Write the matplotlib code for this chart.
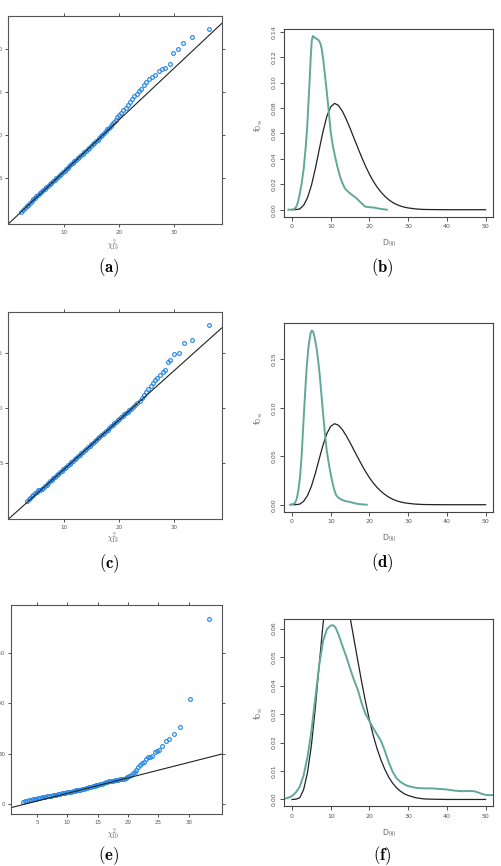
import matplotlib.pyplot as plt

plt.rcParams['mathtext.fontset'] = 'cm'

# ---- QQ plot data (chi-square quantile vs. distance) ----
qa_x = [2.1, 2.5, 2.9, 3.2, 3.5, 3.8, 4.1, 4.4, 4.7, 5.0, 5.3, 5.6, 5.9, 6.2, 6.5, 6.8,
        7.1, 7.4, 7.7, 8.0, 8.3, 8.6, 8.9, 9.2, 9.5, 9.8, 10.1, 10.4, 10.7, 11.0, 11.3,
        11.6, 11.9, 12.2, 12.5, 12.8, 13.1, 13.4, 13.7, 14.0, 14.3, 14.6, 14.9, 15.2,
        15.5, 15.8, 16.1, 16.4, 16.7, 17.0, 17.3, 17.6, 17.9, 18.2, 18.5, 18.8, 19.1,
        19.4, 19.7, 20.0, 20.4, 20.8, 21.2, 21.6, 22.0, 22.4, 22.8, 23.2, 23.6, 24.0,
        24.5, 25.0, 25.5, 26.0, 26.6, 27.2, 27.8, 28.4, 29.3, 29.9, 30.8, 31.7, 33.2, 36.4]
qa_y = [1.0, 1.25, 1.5, 1.7, 1.9, 2.1, 2.3, 2.5, 2.7, 2.88, 3.05, 3.22, 3.4, 3.57, 3.74,
        3.9, 4.08, 4.25, 4.42, 4.6, 4.77, 4.95, 5.12, 5.3, 5.48, 5.66, 5.85, 6.03, 6.22,
        6.4, 6.58, 6.76, 6.93, 7.1, 7.28, 7.46, 7.64, 7.82, 8.0, 8.18, 8.36, 8.54, 8.73,
        8.92, 9.1, 9.28, 9.47, 9.66, 9.85, 10.04, 10.24, 10.44, 10.65, 10.87, 11.1, 11.33,
        11.56, 11.8, 12.05, 12.3, 12.6, 12.85, 13.1, 13.45, 13.85, 14.2, 14.5, 14.8, 15.1,
        15.4, 15.8, 16.2, 16.5, 16.75, 17.0, 17.4, 17.7, 17.85, 18.2, 19.5, 20.0, 20.7,
        21.4, 22.3]
qa_line = (-0.27, 0.601)

qc_x = [3.2, 3.5, 3.8, 4.1, 4.4, 4.7, 5.0, 5.3, 5.6, 5.9, 6.2, 6.5, 6.8, 7.1, 7.4, 7.7,
        8.0, 8.3, 8.6, 8.9, 9.2, 9.5, 9.8, 10.1, 10.4, 10.7, 11.0, 11.3, 11.6, 11.9, 12.2,
        12.5, 12.8, 13.1, 13.4, 13.7, 14.0, 14.3, 14.6, 14.9, 15.2, 15.5, 15.8, 16.1, 16.4,
        16.7, 17.0, 17.3, 17.6, 17.9, 18.2, 18.5, 18.8, 19.1, 19.4, 19.7, 20.0, 20.3, 20.6,
        20.9, 21.2, 21.5, 21.8, 22.1, 22.5, 22.9, 23.3, 23.7, 24.1, 24.5, 24.9, 25.3, 25.7,
        26.1, 26.5, 26.9, 27.4, 27.9, 28.4, 28.8, 29.2, 29.9, 30.8, 31.7, 33.2, 36.4]
qc_y = [1.58, 1.72, 1.87, 2.02, 2.16, 2.3, 2.42, 2.53, 2.6, 2.68, 2.8, 2.93, 3.07, 3.22,
        3.36, 3.5, 3.63, 3.77, 3.9, 4.04, 4.17, 4.31, 4.44, 4.57, 4.71, 4.84, 4.98, 5.11,
        5.24, 5.37, 5.51, 5.64, 5.79, 5.92, 6.05, 6.19, 6.32, 6.46, 6.59, 6.73, 6.86, 6.99,
        7.13, 7.26, 7.4, 7.53, 7.67, 7.8, 7.93, 8.07, 8.21, 8.35, 8.49, 8.63, 8.76, 8.9,
        9.04, 9.17, 9.31, 9.44, 9.58, 9.71, 9.85, 9.98, 10.16, 10.33, 10.5, 10.68, 10.9,
        11.2, 11.5, 11.8, 12.05, 12.3, 12.6, 12.8, 13.0, 13.3, 13.5, 14.2, 14.35, 14.9,
        15.0, 15.9, 16.2, 17.6]
qc_line = (0.0, 0.448)

qe_x = [2.75, 3.1, 3.4, 3.7, 4.0, 4.3, 4.6, 4.9, 5.2, 5.5, 5.8, 6.1, 6.4, 6.7, 7.0, 7.3,
        7.6, 7.9, 8.2, 8.5, 8.8, 9.1, 9.4, 9.7, 10.0, 10.3, 10.6, 10.9, 11.2, 11.5, 11.8,
        12.1, 12.4, 12.7, 13.0, 13.3, 13.6, 13.9, 14.2, 14.5, 14.8, 15.1, 15.4, 15.7, 16.0,
        16.3, 16.6, 16.9, 17.2, 17.5, 17.8, 18.1, 18.4, 18.7, 19.0, 19.3, 19.6, 19.9, 20.2,
        20.5, 20.8, 21.1, 21.4, 21.7, 22.0, 22.3, 22.6, 23.0, 23.3, 23.6, 23.9, 24.4, 24.8,
        25.1, 25.6, 26.2, 26.8, 27.5, 28.6, 30.2, 33.3]
qe_y = [2.3, 2.8, 3.3, 3.8, 4.2, 4.6, 5.0, 5.4, 5.8, 6.2, 6.5, 6.8, 7.1, 7.5, 7.8, 8.2,
        8.6, 9.0, 9.4, 9.7, 10.1, 10.5, 10.8, 11.2, 11.5, 11.9, 12.3, 12.7, 13.1, 13.5,
        13.9, 14.3, 14.7, 15.1, 15.5, 15.9, 16.4, 16.9, 17.4, 17.9, 18.4, 19.0, 19.6, 20.2,
        20.8, 21.4, 22.0, 22.6, 23.0, 23.3, 23.7, 24.0, 24.3, 24.6, 24.9, 25.2, 25.5, 26.4,
        27.8, 29.2, 30.6, 32.0, 34.0, 36.2, 38.2, 40.2, 42.0, 44.6, 46.2, 46.8, 47.6, 52.0,
        52.8, 53.6, 57.9, 62.2, 64.5, 69.8, 76.4, 103.8, 183.5]
qe_line = (-4.72, 1.53)

# ---- density data ----
fit_x = [0, 1, 2, 3, 4, 5, 6, 7, 8, 9, 10, 11, 12, 13, 14, 15, 16, 17, 18, 19, 20, 21,
         22, 23, 24, 25, 26, 27, 28, 29, 30, 32, 34, 36, 40, 45, 50]
fit_y = [0, 0.0001, 0.0006, 0.0035, 0.0095, 0.019, 0.032, 0.047, 0.0615, 0.0735, 0.081,
         0.0836, 0.082, 0.0775, 0.0712, 0.064, 0.0563, 0.0487, 0.0412, 0.0342, 0.0279,
         0.0224, 0.0177, 0.0138, 0.0105, 0.0078, 0.0057, 0.0041, 0.0029, 0.002, 0.0014,
         0.0006, 0.0002, 0.0001, 0, 0, 0]

kb_x = [-0.95, 0, 0.5, 1.0, 1.5, 2.0, 2.5, 3.0, 3.5, 3.9, 4.2, 4.5, 4.8, 5.1, 5.4, 5.8, 6.3,
        6.8, 7.3, 7.7, 8.1, 8.5, 9.0, 9.5, 10.0, 10.5, 11.1, 11.7, 12.4, 13.0, 13.7, 14.3,
        15.0, 16.0, 16.7, 17.8, 18.9, 20.2, 21.2, 21.9, 23.0, 24.5]
kb_y = [0, 0.0001, 0.0005, 0.0018, 0.0055, 0.0125, 0.021, 0.032, 0.048, 0.064, 0.082,
        0.099, 0.118, 0.133, 0.1366, 0.1355, 0.1345, 0.1335, 0.131, 0.126, 0.117, 0.106,
        0.092, 0.077, 0.061, 0.051, 0.042, 0.034, 0.026, 0.021, 0.0165, 0.0148, 0.0128,
        0.0105, 0.0089, 0.0055, 0.0024, 0.0019, 0.0017, 0.0012, 0.0006, 0.0]

kd_x = [-0.52, 0.3, 0.8, 1.2, 1.6, 2.07, 2.5, 2.93, 3.4, 3.79, 4.2, 4.5, 4.8, 5.1, 5.4, 5.7,
        6.0, 6.4, 6.8, 7.2, 7.6, 8.1, 8.5, 8.96, 9.6, 10.3, 10.9, 11.4, 12.0, 12.4, 13.0,
        13.7, 15.0, 16.0, 16.7, 18.0, 19.3]
kd_y = [0, 0.0007, 0.002, 0.006, 0.014, 0.0286, 0.052, 0.084, 0.117, 0.142, 0.161, 0.170,
        0.177, 0.1797, 0.179, 0.175, 0.169, 0.160, 0.147, 0.132, 0.113, 0.0907, 0.073,
        0.056, 0.040, 0.0252, 0.0155, 0.0097, 0.0072, 0.0062, 0.0049, 0.0038, 0.0028,
        0.0018, 0.001, 0.0004, 0.0]

kf_x = [-2.0, -1.0, 0, 1.0, 2.0, 3.0, 4.0, 5.0, 6.0, 7.0, 8.0, 9.0, 10.0, 10.6, 11.2, 12.0,
        13.0, 14.0, 15.0, 16.0, 17.0, 18.0, 19.0, 20.0, 21.0, 22.0, 23.0, 24.0, 25.0, 26.0,
        27.0, 28.0, 29.0, 30.0, 32.0, 34.0, 36.0, 38.0, 40.0, 42.0, 44.0, 46.0, 47.0, 48.0,
        49.0, 50.0, 52.0]
kf_y = [0.0002, 0.0006, 0.0012, 0.0025, 0.0045, 0.0085, 0.015, 0.024, 0.0355, 0.047,
        0.0555, 0.0598, 0.0611, 0.0612, 0.0605, 0.058, 0.054, 0.0502, 0.046, 0.042, 0.0385,
        0.0338, 0.030, 0.0275, 0.025, 0.0228, 0.0205, 0.017, 0.013, 0.0097, 0.0075, 0.0062,
        0.0053, 0.0047, 0.0041, 0.0039, 0.0039, 0.0037, 0.0035, 0.0031, 0.0029, 0.003,
        0.0029, 0.0025, 0.002, 0.0016, 0.0015]

BLUE = '#1f84e6'
GREEN = '#62a89a'
W, H = 502, 866

fig = plt.figure(figsize=(W / 100, H / 100), dpi=100)


def rect(l, t, r, b):
    return [l / W, 1 - b / H, (r - l) / W, (b - t) / H]


def qq_panel(box, x, y, line, xlim, ylim, xticks, yticks, df, lab_xy):
    ax = fig.add_axes(rect(*box))
    ax.plot(x, y, 'o', mfc='none', mec=BLUE, ms=2.7, mew=0.9, alpha=0.9)
    ax.axline((0, line[0]), slope=line[1], color='#222222', lw=0.8)
    ax.set_xlim(xlim)
    ax.set_ylim(ylim)
    ax.set_xticks(xticks)
    ax.set_yticks(yticks)
    ax.tick_params(direction='out', length=2.5, width=0.6, colors='#333333',
                   labelsize=4, labelcolor='#555555', pad=1.5, top=True, right=True)
    for s in ax.spines.values():
        s.set_color('#555555')
        s.set_linewidth(0.8)
    fig.text(lab_xy[0] / W, 1 - lab_xy[1] / H, r'$\chi^2_{%s}$' % df,
             fontsize=5.5, color='#555555', ha='center', va='center')
    return ax


def dens_panel(box, kx, ky, ylim, yticks, ylabels, xlab_y, ylab_y):
    ax = fig.add_axes(rect(*box))
    ax.plot(fit_x, fit_y, color='#222222', lw=0.9)
    ax.plot(kx, ky, color=GREEN, lw=1.4)
    ax.set_xlim(-2, 52)
    ax.set_ylim(ylim)
    ax.set_xticks([0, 10, 20, 30, 40, 50])
    ax.set_yticks(yticks)
    ax.set_yticklabels(ylabels, rotation=90, va='center')
    ax.tick_params(direction='out', length=3, width=0.6, colors='#333333',
                   labelsize=4.5, labelcolor='#555555', pad=2.5)
    for s in ax.spines.values():
        s.set_color('#444444')
        s.set_linewidth(0.8)
    fig.text(389 / W, 1 - xlab_y / H, r'$\mathsf{D}_{\mathsf{90}}$', fontsize=6,
             color='#555555', ha='center', va='center')
    fig.text(259 / W, 1 - ylab_y / H, r'$\mathsf{f}_{\mathsf{D}_{\mathsf{90}}}$',
             fontsize=6, color='#555555', ha='center', va='center', rotation=90)
    return ax


qq_panel((8, 16, 222, 224), qa_x, qa_y, qa_line, (-0.18, 38.73), (-0.35, 23.84),
         [10, 20, 30], [5, 10, 15, 20], '13', (113, 245))
qq_panel((8.3, 312.3, 222.3, 519.3), qc_x, qc_y, qc_line, (-0.18, 38.73), (-0.09, 18.73),
         [10, 20, 30], [5, 10, 15], '13', (113, 538))
qq_panel((10.7, 605.3, 222.3, 814.3), qe_x, qe_y, qe_line, (0.67, 35.54), (-10.2, 197),
         [5, 10, 15, 20, 25, 30], [0, 50, 100, 150], '10', (113, 834))

dens_panel((284.3, 29, 493.3, 216.7), kb_x, kb_y, (-0.0055, 0.1421),
           [0, 0.02, 0.04, 0.06, 0.08, 0.10, 0.12, 0.14],
           ['0.00', '0.02', '0.04', '0.06', '0.08', '0.10', '0.12', '0.14'], 243, 125)
dens_panel((284.3, 323.3, 493.3, 511.7), kd_x, kd_y, (-0.0072, 0.1872),
           [0, 0.05, 0.10, 0.15], ['0.00', '0.05', '0.10', '0.15'], 538, 418)
dens_panel((284.3, 619, 493.3, 806.3), kf_x, kf_y, (-0.0024, 0.0634),
           [0, 0.01, 0.02, 0.03, 0.04, 0.05, 0.06],
           ['0.00', '0.01', '0.02', '0.03', '0.04', '0.05', '0.06'], 833, 713)

captions = ['(a)', '(b)', '(c)', '(d)', '(e)', '(f)']
cap_pos = [(109, 268), (382, 268), (109, 564), (382, 563), (109, 856), (382, 856)]
for c, (px, py) in zip(captions, cap_pos):
    fig.text(px / W, 1 - py / H, r'$\mathbf{%s}$' % c, fontsize=12, ha='center',
             va='center', color='black')

fig.savefig('out.png', dpi=100)
